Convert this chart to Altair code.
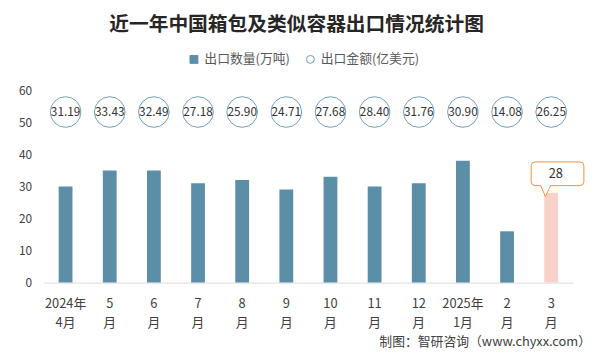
import altair as alt
import pandas as pd

months = ["2024年4月", "5月", "6月", "7月", "8月", "9月", "10月", "11月", "12月", "2025年1月", "2月", "3月"]
qty = [30, 35, 35, 31, 32, 29, 33, 30, 31, 38, 16, 28]
amt = [31.19, 33.43, 32.49, 27.18, 25.90, 24.71, 27.68, 28.40, 31.76, 30.90, 14.08, 26.25]
series = ["出口数量(万吨)", "出口金额(亿美元)"]
title_text = "近一年中国箱包及类似容器出口情况统计图"
footer_text = "制图：智研咨询（www.chyxx.com）"

df = pd.DataFrame({"month": months, "qty": qty, "amt": amt})
df_last = df.iloc[[-1]]
legend_df = pd.DataFrame({"series": series})

FONT = "Noto Sans CJK SC"
BAR = "#5b8fa8"
HL = "#f8d1c8"
CIRC = "#6f9db5"

label_expr = ("length(datum.value) > 3 ? [slice(datum.value, 0, 5), slice(datum.value, 5)]"
              " : [replace(datum.value, '月', ''), '月']")

x_axis = alt.Axis(title=None, labelAngle=0, labelExpr=label_expr, ticks=False,
                  domainColor="#d9d9d9", labelFontSize=13, labelColor="#404040",
                  labelFont=FONT, labelPadding=15, labelLineHeight=19.5,
                  labelBaseline="top")
y_axis = alt.Axis(title=None, values=[0, 10, 20, 30, 40, 50, 60], grid=False,
                  domain=False, ticks=False, labelPadding=12, labelFontSize=12,
                  labelColor="#404040", labelFont=FONT, labelOverlap=False)
x_scale = alt.Scale(paddingInner=0, paddingOuter=0)
y_scale = alt.Scale(domain=[0, 60], nice=False)


def X():
    return alt.X("month:N", sort=months, scale=x_scale, axis=x_axis)


base = alt.Chart(df)

bars = base.mark_bar(size=14).encode(
    x=X(),
    y=alt.Y("qty:Q", scale=y_scale, axis=y_axis),
    color=alt.condition(alt.datum.month == "3月", alt.value(HL), alt.value(BAR)),
)

circles = base.mark_point(shape="circle", size=961, filled=True, fill="white",
                          stroke=CIRC, strokeWidth=1, opacity=1).encode(
    x=X(),
    y=alt.Y(datum=53.2, type="quantitative", scale=y_scale, axis=y_axis),
)

amt_text = base.mark_text(fontSize=12, color="#333333", font=FONT).encode(
    x=X(),
    y=alt.Y(datum=53.2, type="quantitative", scale=y_scale, axis=y_axis),
    text=alt.Text("amt:Q", format=".2f"),
)

callout_path = ("M -1.63 -3.13 L 2.91 -3.13 Q 3.31 -3.13 3.31 -2.73 L 3.31 -1.13 "
                "Q 3.31 -0.73 2.91 -0.73 L -0.06 -0.73 L -0.59 0.37 L -1.06 -0.73 "
                "L -1.63 -0.73 Q -2.03 -0.73 -2.03 -1.13 L -2.03 -2.73 Q -2.03 -3.13 -1.63 -3.13 Z")

callout = alt.Chart(df_last).mark_point(shape=callout_path, size=400, filled=True,
                                        fill="white", stroke="#e8923a", strokeWidth=1,
                                        opacity=1).encode(
    x=X(),
    y=alt.Y("qty:Q", scale=y_scale, axis=y_axis),
)
callout_text = alt.Chart(df_last).mark_text(dx=4.7, dy=-19, fontSize=13, color="#333333",
                                            font=FONT).encode(
    x=X(),
    y=alt.Y("qty:Q", scale=y_scale, axis=y_axis),
    text="qty:Q",
)

leg = alt.Legend(title=None, orient="none", legendX=146, legendY=-38, direction="horizontal",
                 symbolSize=64, symbolStrokeWidth=1, labelFontSize=13, labelFont=FONT,
                 labelColor="#595959", labelOffset=4, columnPadding=14)
legend_layer = alt.Chart(legend_df).mark_point(opacity=1, strokeWidth=1, size=64).encode(
    x=alt.value(-300), y=alt.value(100),
    shape=alt.Shape("series:N", scale=alt.Scale(domain=series, range=["square", "circle"]), legend=leg),
    fill=alt.Fill("series:N", scale=alt.Scale(domain=series, range=[BAR, "white"]), legend=leg),
    stroke=alt.Stroke("series:N", scale=alt.Scale(domain=series, range=[BAR, CIRC]), legend=leg),
)

footer = alt.Chart(pd.DataFrame({"t": [footer_text]})).mark_text(
    align="right", baseline="middle", fontSize=13, color="#404040", font=FONT).encode(
    x=alt.value(555), y=alt.value(255), text="t:N")

chart = alt.layer(bars, circles, amt_text, callout, callout_text, legend_layer, footer).properties(
    width=537, height=195,
    title=alt.TitleParams(title_text, fontSize=20, fontWeight="bold", font=FONT, color="#262626",
                          anchor="middle", frame="group", dx=-12, offset=18),
    autosize=alt.AutoSizeParams(type="none"),
    padding={"left": 36, "top": 81, "right": 21, "bottom": 68},
    background="white",
).configure_view(stroke=None)

chart.save("out.html", embed_options={"renderer": "svg", "actions": False})
